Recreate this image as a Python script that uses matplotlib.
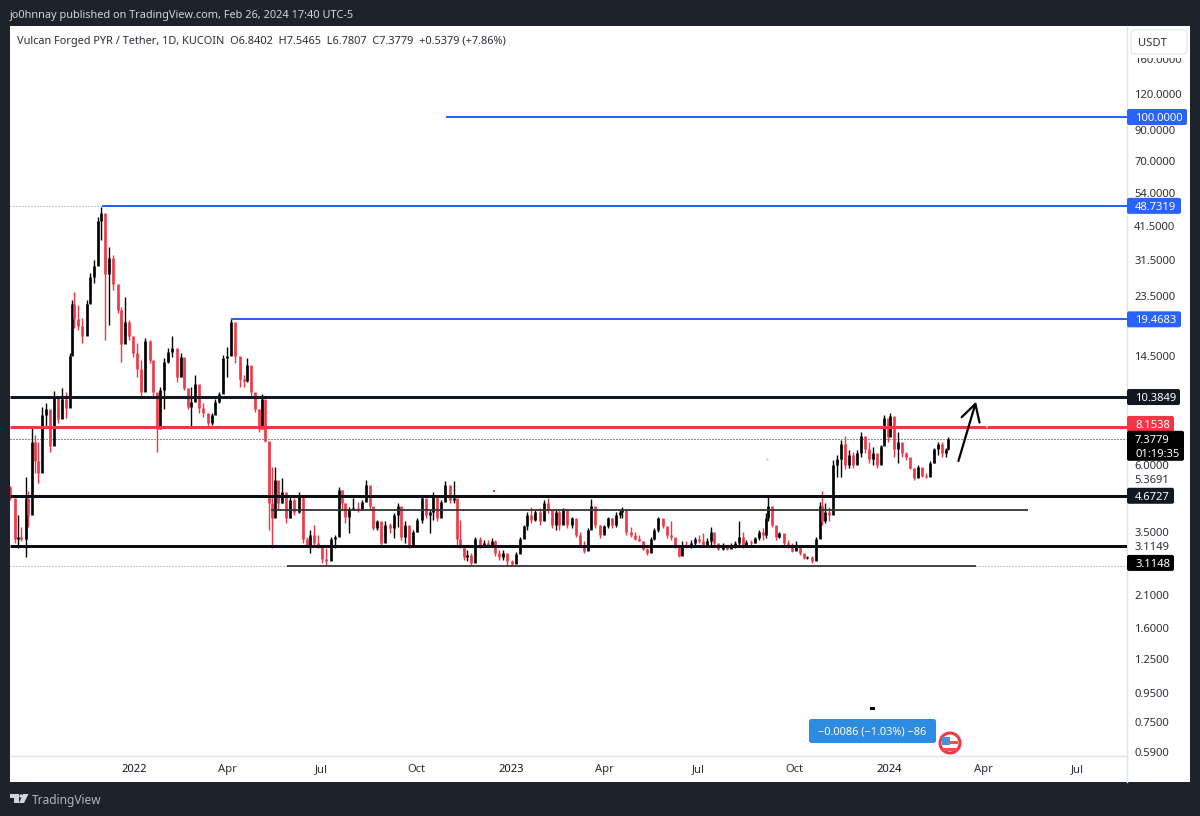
import matplotlib
matplotlib.use("Agg")
import matplotlib.pyplot as plt
import numpy as np
import pandas as pd
import matplotlib.dates as mdates
from matplotlib.patches import Rectangle, FancyBboxPatch, Circle, Polygon
from matplotlib.transforms import IdentityTransform

plt.rcParams['font.family'] = ['Noto Sans', 'DejaVu Sans']

W, H = 1200, 816
START = pd.Timestamp('2021-09-03')

# days since START for each sampled bar
bar_days = [0,5,8,11,15,17,21,24,27,31,35,39,43,46,50,54,58,60,62,66,70,74,77,81,85,88,92,96,100,104,107,111,115,119,123,127,131,135,138,142,145,149,153,157,161,165,168,172,175,179,183,187,191,195,198,202,206,210,214,218,222,226,229,233,237,241,244,247,250,253,256,259,263,267,271,275,279,
283,287,290,294,298,302,306,310,314,318,321,324,328,332,336,340,344,348,351,355,359,363,367,371,375,378,382,386,390,394,398,402,406,409,413,417,421,425,429,432,435,439,442,446,450,454,458,462,466,469,473,477,481,485,489,493,497,500,504,508,512,516,520,524,528,
531,535,539,543,547,551,555,559,562,566,570,574,578,582,586,590,592,596,600,604,608,612,616,620,623,627,631,635,639,643,647,650,654,658,662,666,670,674,678,681,685,689,693,697,701,705,709,712,716,720,724,728,731,733,737,741,744,748,752,756,760,764,768,771,775,779,783,785,788,792,
796,800,803,807,811,815,819,823,827,831,834,838,842,845,849,851,855,859,862,866,870,874,878,882,886,890,893,897,901,905,907]

highs = [5.05,4.01,4.01,3.64,5.45,4.84,8.1,7.66,7.2,9.6,9.9,8.45,10.9,9.6,11.2,10.8,14.8,22.8,24.3,21.9,19.7,22.8,28.3,31.5,44.5,48.4,39.2,35,32.8,23.7,21.5,23.3,19.4,16.5,16.1,14,16.8,16.5,13.2,9.15,11.3,14.2,15.4,17,14,14.8,12.6,10.8,11.3,12.4,10.2,9.9,9.15,9.15,10.2,10.8,14.6,15.6,19.7,16.5,13.7,12.4,14.2,11.9,10.5,9.4,10.6,8.45,7.2,5.9,5.9,5.2,5.4,4.42,4.63,4.6,4.8,
3.9,3.36,3.55,3.7,3.41,3.07,3.07,3.36,3.41,5.0,4.91,4.42,4.28,4.6,4.46,4.53,5.33,4.8,3.95,3.85,3.55,3.8,3.76,4.07,4.42,3.61,3.8,3.55,3.55,3.9,4.72,4.28,4.18,4.8,4.18,4.53,5.25,4.8,5.25,4.42,3.85,3.1,3.02,2.95,3.36,3.36,3.28,3.28,3.33,3.28,3.02,3.02,2.9,2.79,2.97,3.36,3.7,4.1,4.28,4.18,4.25,4.53,4.6,3.95,4.18,
4.18,4.25,3.95,3.95,3.61,3.5,3.23,3.61,4.57,4.01,3.7,3.7,3.95,3.9,4.1,4.18,4.28,3.7,3.64,3.5,3.41,3.23,3.07,3.36,3.61,3.95,3.85,3.61,3.8,3.28,3.07,3.23,3.23,3.28,3.36,3.41,3.46,3.33,3.64,3.33,3.15,3.18,3.15,3.18,3.23,3.8,3.5,3.28,3.28,3.36,3.55,3.61,4.07,4.69,4.01,3.55,3.5,3.41,3.28,3.18,3.23,3.02,2.9,2.88,2.86,3.36,4.46,4.84,4.42,4.28,
6.26,6.52,7.36,7.55,6.79,6.68,6.79,7.85,7.36,7.2,6.96,6.42,7.07,9.0,8.45,9.15,7.98,7.85,7.07,6.68,6.26,5.87,6.01,5.87,5.64,6.17,6.9,7.23,7.2,6.9,7.5465]

lows = [4.53,3.2,3.07,3.23,2.85,3.64,4.91,5.64,5.2,7.2,8.2,6.68,8.2,8.45,9.15,8.8,10.5,14.8,18.2,17.9,16.1,17.2,24.7,26.2,33.3,37,16.5,18.6,24.7,20.5,13.8,16.9,16.5,14.4,12.2,10.5,13.2,13.7,10.5,6.68,9.2,9.4,13.7,14.4,11.7,12.2,11,9.4,8.1,10.5,9.15,8.85,8.2,8.3,9.4,9.9,10.8,12.2,15.2,13.7,11.3,11.3,11.7,10.5,9.2,7.8,8.45,7.2,3.55,3.07,4.28,4.18,4.42,3.76,3.9,4.01,4.07,
3.2,3.1,2.95,3.1,3.07,2.72,2.66,2.95,3.07,3.55,4.18,3.76,3.46,4.18,4.1,4.18,4.63,4.18,3.55,3.55,3.15,3.36,3.46,3.33,3.64,3.28,3.2,3.07,3.23,3.5,3.76,3.9,3.46,3.85,3.8,4.1,4.6,4.42,4.42,3.1,3.07,2.79,2.75,2.66,2.86,3.07,3.1,3.1,3.1,2.86,2.79,2.79,2.68,2.66,2.75,3.02,3.46,3.55,3.76,3.8,3.7,3.95,4.07,3.61,3.55,
3.55,3.9,3.61,3.61,3.36,3.1,2.95,3.2,3.64,3.61,3.33,3.46,3.61,3.61,3.64,3.9,3.9,3.41,3.36,3.28,3.23,3.02,2.9,3.07,3.28,3.5,3.61,3.33,3.28,3.07,2.84,2.9,3.07,3.07,3.1,3.2,3.1,3.1,3.15,3.15,3.02,3.02,3.02,3.07,3.07,3.15,3.07,3.1,3.15,3.2,3.28,3.28,3.33,3.8,3.64,3.28,3.33,3.15,3.07,2.97,3.02,2.9,2.81,2.81,2.72,2.84,3.33,3.7,3.76,3.8,
4.6,5.46,5.46,5.78,5.87,5.87,6.1,6.4,6.63,6.1,6.01,5.87,6.37,7.2,7.2,7.55,6.37,6.1,6.37,6.26,5.78,5.33,5.46,5.42,5.38,5.55,6.1,6.52,6.42,6.37,6.7807]

closes = [4.6,3.3,3.35,3.3,4.6,4.0,7.2,6.2,5.6,9.0,9.4,7.0,10.3,8.7,10.2,9.5,14.5,22,19.5,18.5,17,22,27.5,30,43,46,28,32,26,21,16,19,17,14.8,13,10.8,16.3,14,10.8,8,11,13.8,15,15.5,12.2,14.4,11.2,9.6,10,11.5,9.5,9.1,8.4,9,10,10.6,14.2,14.5,19,14.5,12,11.8,13.5,10.8,9.4,8,10.2,7.3,4.4,3.9,5.3,4.4,4.8,3.9,4.5,4.1,4.7,
3.3,3.15,3.4,3.2,3.1,2.8,2.75,3.3,3.35,4.9,4.4,3.95,4.2,4.25,4.2,4.45,5.1,4.3,3.6,3.8,3.2,3.7,3.6,4.0,4.3,3.35,3.7,3.15,3.5,3.85,4.6,4.0,4.1,4.7,3.9,4.45,5.1,4.5,4.6,3.3,3.1,2.85,2.9,2.72,3.3,3.15,3.2,3.15,3.25,2.95,2.85,2.95,2.75,2.7,2.92,3.3,3.65,4.0,3.85,4.1,3.8,4.4,4.15,3.7,4.1,
3.7,4.2,3.7,3.9,3.4,3.15,3.0,3.55,4.3,3.7,3.4,3.65,3.9,3.7,4.0,4.1,4.2,3.5,3.4,3.3,3.25,3.05,2.93,3.3,3.55,3.9,3.65,3.4,3.35,3.1,2.88,3.15,3.1,3.2,3.3,3.25,3.15,3.25,3.5,3.2,3.05,3.12,3.05,3.12,3.2,3.35,3.12,3.22,3.2,3.33,3.5,3.4,3.9,4.3,3.7,3.35,3.45,3.2,3.1,3.0,3.1,2.93,2.83,2.85,2.76,3.3,4.3,3.8,4.1,4.0,
6.0,6.3,7.1,6.0,6.5,6.0,6.6,7.6,6.8,6.3,6.6,6.0,7.0,8.8,7.5,8.9,6.8,7.2,6.6,6.4,5.85,5.4,5.9,5.5,5.45,6.1,6.8,7.1,6.6,6.84,7.3779]

# drawn price levels
target_100 = 100.0
ath_level = 48.7319
apr_high = 19.4683
resist_1 = 10.3849
red_level = 8.1538
last_price = 7.3779
support_1 = 4.6727
mid_thin = 4.18
support_2 = 3.1149
base_thin = 2.65

y_ticks = [160,120,90,70,54,41.5,31.5,23.5,14.5,6,5.3691,3.5,3.1149,2.1,1.6,1.25,0.95,0.75,0.59]

x_tick_dates = ['2022-01-01','2022-04-01','2022-07-01','2022-10-01','2023-01-01','2023-04-01','2023-07-01','2023-10-01','2024-01-01','2024-04-01','2024-07-01']
x_tick_labels = ['2022','Apr','Jul','Oct','2023','Apr','Jul','Oct','2024','Apr','Jul']

BG = '#1e222d'
UP = '#000000'
DOWN = '#f23645'
BLUE = '#2962ff'
DARK = '#131722'
GRID = '#e0e3eb'

def day(d):
    return START + pd.Timedelta(days=d)

fig = plt.figure(figsize=(W/100, H/100), dpi=100, facecolor=BG)
ID = IdentityTransform()
def Y(y):
    return H - y

fig.add_artist(Rectangle((10, Y(782)), 1180, 756, transform=ID, fc='white', ec='none', zorder=-2))

ax = fig.add_axes([10/W, 1-756/H, 1117/W, 730/H], facecolor='white', zorder=0)
ax.set_yscale('log')
ax.set_ylim(0.5697, 208.7)
ax.set_xlim(day(0), day(1080))

dates = pd.to_datetime([day(d) for d in bar_days])
C = np.array(closes)
O = np.r_[5.0, C[:-1]]
Hi = np.array(highs)
Lo = np.array(lows)
up = C >= O
col = np.where(up, UP, DOWN).tolist()
ax.vlines(dates, Lo, Hi, colors=col, lw=1.0, zorder=3)
ax.vlines(dates, np.minimum(O, C), np.maximum(O, C), colors=col, lw=1.9, zorder=3.1)

# levels
px = 0.72
ax.hlines(target_100, day(422), day(1081), color=BLUE, lw=2*px, zorder=4)
ax.hlines(ath_level, day(89), day(1081), color=BLUE, lw=2*px, zorder=4)
ax.hlines(ath_level, day(0), day(89), color='#8a8a8a', lw=1*px, ls=(0,(1,2)), zorder=2)
ax.hlines(apr_high, day(214), day(1081), color=BLUE, lw=2*px, zorder=4)
ax.hlines(resist_1, day(0), day(1081), color=DARK, lw=3*px, zorder=4)
ax.hlines(red_level, day(0), day(1081), color=DOWN, lw=3*px, zorder=4)
ax.hlines(last_price, day(0), day(1081), color='#222222', lw=1*px, ls=(0,(1,2)), zorder=2)
ax.hlines(support_1, day(0), day(1081), color='#0b0e14', lw=3*px, zorder=4)
ax.hlines(mid_thin, day(252), day(984), color='#333333', lw=1.8*px, zorder=4)
ax.hlines(support_2, day(0), day(1081), color='#0b0e14', lw=3*px, zorder=4)
ax.hlines(base_thin, day(268), day(934), color='#333333', lw=1.8*px, zorder=4)
ax.hlines(base_thin, day(0), day(268), color='#8a8a8a', lw=1*px, ls=(0,(1,2)), zorder=2)
ax.hlines(base_thin, day(934), day(1081), color='#8a8a8a', lw=1*px, ls=(0,(1,2)), zorder=2)

# arrow
ax.annotate('', xy=(day(934), 10.0), xytext=(day(917), 6.19),
            arrowprops=dict(arrowstyle='->,head_length=0.75,head_width=0.42', color='black', lw=1.6,
                            shrinkA=0, shrinkB=0, mutation_scale=16), zorder=5)

# specks
ax.plot([day(732)], [6.3], marker='s', ms=1.2, color='#7fd6d0', mew=0, zorder=3)
ax.plot([day(468)], [4.85], marker='s', ms=1.8, color=DOWN, mew=0, zorder=3)
ax.plot([day(945)], [red_level], marker='s', ms=1.8, color='#ffb3b8', mew=0, zorder=5)

# axes dressing
for s in ('top', 'left'):
    ax.spines[s].set_visible(False)
for s in ('right', 'bottom'):
    ax.spines[s].set_color(GRID)
    ax.spines[s].set_linewidth(1.4*px)
ax.yaxis.tick_right()
ax.set_yticks(y_ticks)
ax.set_yticklabels(['%.4f' % v for v in y_ticks])
ax.yaxis.set_minor_locator(matplotlib.ticker.NullLocator())
ax.yaxis.set_minor_formatter(matplotlib.ticker.NullFormatter())
ax.tick_params(axis='y', length=0, pad=5.2, labelsize=8.1, labelcolor='#2e3038')
ax.set_xticks(pd.to_datetime(x_tick_dates))
ax.set_xticklabels(x_tick_labels)
ax.tick_params(axis='x', length=0, pad=5.5, labelsize=8.1, labelcolor='#2e3038')
for lab in ax.get_xticklabels():
    if lab.get_text().startswith('20'):
        lab.set_fontweight('semibold')
        lab.set_color(DARK)

fig.add_artist(plt.Line2D([1127, 1127], [Y(782), Y(756)], transform=ID, color=GRID, lw=1.4*px, zorder=1))

fig.canvas.draw()

def ypx(p):
    return ax.transData.transform((mdates.date2num(day(0)), p))[1]

def tag(price, text, width, fc, tc='white', h=16, dy=0):
    yc = ypx(price) + dy
    fig.add_artist(FancyBboxPatch((1127, yc-h/2), width, h, boxstyle='round,pad=0,rounding_size=2',
                                  transform=ID, fc=fc, ec='none', zorder=5))
    fig.text(1135/W, yc/H, text, color=tc, fontsize=8.1, fontweight='semibold', va='center_baseline', ha='left', zorder=6)

tag(target_100, '100.0000', 60, BLUE)
tag(ath_level, '48.7319', 54, BLUE)
tag(apr_high, '19.4683', 54, BLUE)
tag(resist_1, '10.3849', 53, DARK)
tag(red_level, '8.1538', 47, DOWN, dy=3)
tag(support_1, '4.6727', 47, DARK)
tag(base_thin, '3.1148', 47, '#000000', dy=3)

# last price double tag
yc = ypx(last_price) - 6.5
fig.add_artist(FancyBboxPatch((1127, yc-15), 57, 30, boxstyle='round,pad=0,rounding_size=2',
                              transform=ID, fc='#000000', ec='none', zorder=5))
fig.text(1135/W, (yc+7)/H, '7.3779', color='white', fontsize=8.1, fontweight='semibold', va='center_baseline', zorder=6)
fig.text(1135/W, (yc-7)/H, '01:19:35', color='white', fontsize=8.1, va='center_baseline', zorder=6)

# USDT button, with the white margin that cuts the top of the 160 label
fig.add_artist(Rectangle((1128, Y(57.5)), 61, 4, transform=ID, fc='white', ec='none', zorder=6))
fig.add_artist(FancyBboxPatch((1131, Y(54)), 56, 24, boxstyle='round,pad=0,rounding_size=4', transform=ID,
                              fc='white', ec=GRID, lw=1.1*px, zorder=7))
fig.text(1152/W, Y(42)/H, 'USDT', color='#2e3038', fontsize=8.1, ha='center', va='center_baseline', zorder=8)

# header, legend, footer
fig.text(10/W, Y(14)/H, 'jo0hnnay published on TradingView.com, Feb 26, 2024 17:40 UTC-5', color='#d1d4dc',
         fontsize=7.9, va='center_baseline')
fig.text(17/W, Y(40)/H, 'Vulcan Forged PYR / Tether, 1D, KUCOIN  O6.8402  H7.5465  L6.7807  C7.3779  +0.5379 (+7.86%)',
         color='#2a2e39', fontsize=7.9, va='center_baseline', zorder=8)
fig.text(32/W, Y(799)/H, 'TradingView', color='#b2b5be', fontsize=8.6, va='center_baseline')

# TradingView logo
logo = '#d1d4dc'
fig.add_artist(Polygon([(10,Y(794)),(19,Y(794)),(19,Y(803)),(14,Y(803)),(14,Y(798)),(10,Y(798))], closed=True,
                       transform=ID, fc=logo, ec='none'))
fig.add_artist(Circle((21,Y(796)), 1.7, transform=ID, fc=logo, ec='none'))
fig.add_artist(Polygon([(23,Y(794)),(28.5,Y(794)),(24,Y(803)),(19,Y(803))], closed=True, transform=ID, fc=logo, ec='none'))

# measure badge
fig.add_artist(Rectangle((869.5, Y(710)), 5, 3, transform=ID, fc='black', ec='none', zorder=6))
fig.add_artist(FancyBboxPatch((809, Y(743)), 127, 24, boxstyle='round,pad=0,rounding_size=2.5', transform=ID,
                              fc='#2d8ce2', ec='none', zorder=6))
fig.text(872.5/W, Y(731)/H, '\u22120.0086 (\u22121.03%) \u221286', color='white', fontsize=7.9, ha='center',
         va='center_baseline', zorder=7)

# flag event icon
fig.add_artist(Circle((950, Y(743)), 11.5, transform=ID, fc='#f23645', ec='none', zorder=6))
fig.add_artist(Circle((950, Y(743)), 8.5, transform=ID, fc='white', ec='none', zorder=7))
fig.add_artist(Rectangle((950, Y(744)), 8, 3, transform=ID, fc='#ef5350', ec='none', zorder=8))
fig.add_artist(Rectangle((943, Y(751)), 14, 3, transform=ID, fc='#ef5350', ec='none', zorder=8))
fig.add_artist(Rectangle((942, Y(745)), 8, 8, transform=ID, fc='#4a90e2', ec='none', zorder=9))

fig.savefig('out.png', dpi=100, facecolor=BG)
